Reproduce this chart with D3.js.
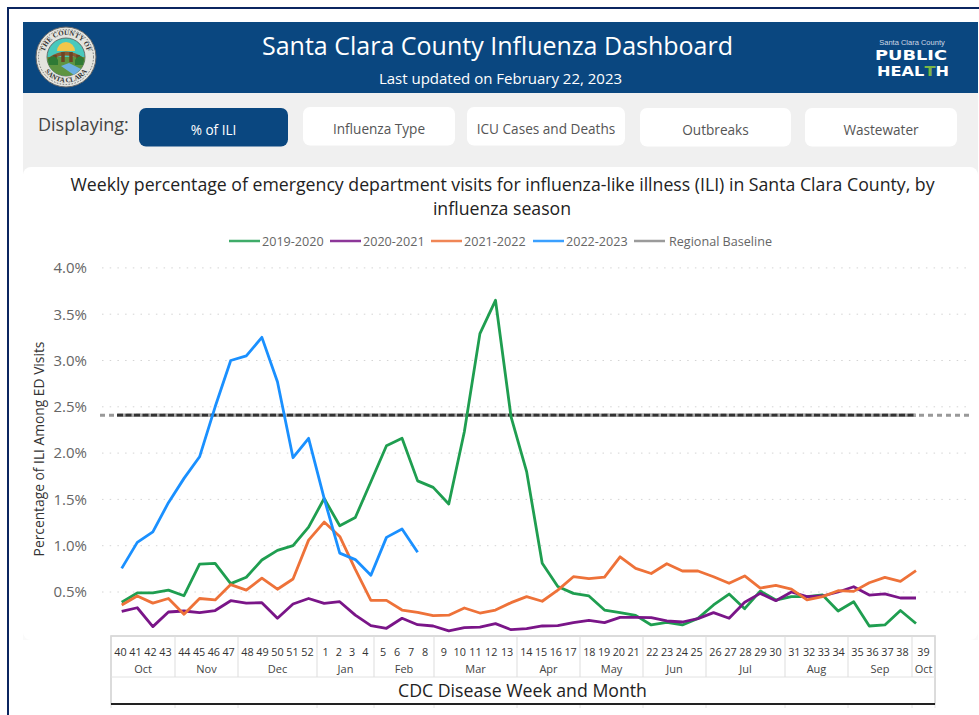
<!DOCTYPE html>
<html>
<head>
<meta charset="utf-8">
<script src="https://cdn.jsdelivr.net/npm/d3@7"></script>
<style>
body { margin: 0; background: #fff; }
text { font-family: "Open Sans", "Noto Sans", sans-serif; }
</style>
</head>
<body>
<svg id="chart" width="979" height="715"></svg>
<script>
// weeks in the order they are plotted, season starts at week 40
var weeks = [40,41,42,43,44,45,46,47,48,49,50,51,52,1,2,3,4,5,6,7,8,9,10,11,12,13,14,15,16,17,18,19,20,21,22,23,24,25,26,27,28,29,30,31,32,33,34,35,36,37,38,39];
var months = ["Oct","Nov","Dec","Jan","Feb","Mar","Apr","May","Jun","Jul","Aug","Sep","Oct"];
var monthWeeks = [4,4,5,4,4,5,4,4,4,5,4,4,1];
var buttons = ["% of ILI","Influenza Type","ICU Cases and Deaths","Outbreaks","Wastewater"];
var yTicks = [0.5,1.0,1.5,2.0,2.5,3.0,3.5,4.0];
var baseline = 2.41;

var s2019 = [.39,.49,.49,.52,.46,.80,.81,.59,.66,.845,.95,1.0,1.2,1.51,1.215,1.305,1.69,2.08,2.16,1.70,1.63,1.45,2.23,3.29,3.65,2.39,1.80,.81,.56,.485,.457,.305,.277,.248,.144,.172,.144,.215,.36,.478,.32,.51,.413,.45,.45,.468,.295,.395,.133,.144,.30,.16];
var s2020 = [.29,.33,.126,.284,.295,.277,.30,.406,.38,.385,.216,.37,.43,.378,.395,.25,.136,.108,.216,.147,.133,.08,.115,.12,.158,.093,.104,.133,.136,.17,.194,.17,.226,.226,.223,.187,.176,.212,.277,.216,.39,.485,.406,.50,.45,.457,.50,.557,.467,.48,.435,.435];
var s2021 = [.36,.457,.38,.43,.26,.43,.414,.58,.52,.65,.53,.64,1.06,1.255,1.10,.745,.41,.41,.305,.28,.244,.25,.327,.273,.305,.385,.45,.40,.52,.665,.645,.66,.88,.755,.70,.805,.727,.727,.665,.594,.673,.543,.572,.53,.414,.45,.514,.507,.60,.658,.615,.73];
var s2022 = [.755,1.036,1.15,1.465,1.727,1.96,2.5,3.0,3.05,3.25,2.77,1.95,2.16,1.51,.92,.85,.68,1.09,1.18,.93];

var seriesNames = ["2019-2020","2020-2021","2021-2022","2022-2023"];
var seriesValues = [s2019,s2020,s2021,s2022];
var seriesColors = ["#1f9e50","#7a1588","#ee7239","#1a90ff"];

var svg = d3.select("#chart");
var navy = "#0a4780";

// page frame and dashboard panels
svg.append("rect").attr("x",7).attr("y",7).attr("width",972).attr("height",2).attr("fill","#0b2560");
svg.append("rect").attr("x",7).attr("y",7).attr("width",2).attr("height",708).attr("fill","#0b2560");
svg.append("rect").attr("x",23).attr("y",22).attr("width",955).attr("height",71).attr("fill",navy);
svg.append("rect").attr("x",23).attr("y",93).attr("width",955).attr("height",90).attr("fill","#f0f0f0");
svg.append("rect").attr("x",23).attr("y",183).attr("width",955).attr("height",457).attr("fill","#fafafa");
svg.append("rect").attr("x",23).attr("y",167).attr("width",955).attr("height",473).attr("rx",8).attr("fill","#fff");

svg.append("text").attr("x",497.5).attr("y",55).attr("text-anchor","middle")
    .attr("fill","#fff").style("font-size","25px").text("Santa Clara County Influenza Dashboard");
svg.append("text").attr("x",500.5).attr("y",84).attr("text-anchor","middle")
    .attr("fill","#fff").style("font-size","15px").text("Last updated on February 22, 2023");

// county seal, just a rough version
var seal = svg.append("g").attr("transform","translate(66,57)");
seal.append("circle").attr("r",30).attr("fill","#e4e4de").attr("stroke","#666").attr("stroke-width",1);
seal.append("circle").attr("r",27.5).attr("fill","none").attr("stroke","#777").attr("stroke-width",1).attr("stroke-dasharray","1.5,1.5");
seal.append("path").attr("id","sealTop").attr("d","M-22,0 A22,22 0 0,1 22,0").attr("fill","none");
seal.append("path").attr("id","sealBottom").attr("d","M-25.5,0 A25.5,25.5 0 0,0 25.5,0").attr("fill","none");
seal.append("text").style("font-size","7px").style("font-family","Liberation Serif").style("font-weight","bold").attr("fill","#333")
    .append("textPath").attr("href","#sealTop").attr("startOffset","50%").attr("text-anchor","middle").text("THE COUNTY OF");
seal.append("text").style("font-size","7px").style("font-family","Liberation Serif").style("font-weight","bold").attr("fill","#333")
    .append("textPath").attr("href","#sealBottom").attr("startOffset","50%").attr("text-anchor","middle").text("SANTA CLARA");
seal.append("circle").attr("r",19).attr("fill","#48c9bd").attr("stroke","#555").attr("stroke-width",0.8);
seal.append("path").attr("d","M-19,0 A19,19 0 0,0 19,0 Z").attr("fill","#5f9440");
seal.append("path").attr("d","M-9,-6 A9,9 0 0,1 9,-6 Z").attr("fill","#f2c64a");
seal.append("path").attr("d","M-18,1 Q0,-12 18,1 L18,4 Q0,-7 -18,4 Z").attr("fill","#8a5a30");
seal.append("path").attr("d","M-11,-2 L-11,8 M-3,-5 L-3,5 M5,-5 L5,5 M12,-2 L12,8").attr("stroke","#6d4424").attr("stroke-width",3.5);
seal.append("path").attr("d","M-5,9 L8,18 L15,12 L3,6 Z").attr("fill","#6db0e0");
seal.append("path").attr("d","M-18,2 Q-12,-4 -8,3 L-8,8 L-17,8 Z M9,3 Q14,-4 18,2 L17,8 L9,8 Z").attr("fill","#2f7a35");

// public health logo, letters stretched sideways so the lines do not collide
svg.append("text").attr("x",912).attr("y",45).attr("text-anchor","middle").attr("fill","#cfd9e6")
    .style("font-size","7.5px").style("font-family","Liberation Sans").text("Santa Clara County");
svg.append("text").attr("transform","translate(911,60) scale(1.27,1)").attr("text-anchor","middle").attr("fill","#fff")
    .style("font-size","14px").style("font-weight","bold").style("font-family","DejaVu Sans").text("PUBLIC");
var health = svg.append("text").attr("transform","translate(913,76) scale(1.155,1)").attr("text-anchor","middle").attr("fill","#fff")
    .style("font-size","14px").style("font-weight","bold").style("font-family","DejaVu Sans");
health.append("tspan").text("HEAL");
health.append("tspan").attr("fill","#7ab648").text("T");
health.append("tspan").text("H");

// displaying buttons
svg.append("text").attr("x",38).attr("y",131).attr("fill","#444").style("font-size","18px").text("Displaying:");
var buttonX = [139,303,467,640,805];
var buttonW = [149,152,158,151,152];
var buttonY = [108,107,107,108,108];
var buttonG = svg.selectAll(".btn").data(buttons).enter().append("g").attr("class","btn");
buttonG.append("rect")
    .attr("x",(d,i) => buttonX[i]).attr("y",(d,i) => buttonY[i])
    .attr("width",(d,i) => buttonW[i]).attr("height",38.5).attr("rx",7)
    .attr("fill",(d,i) => i == 0 ? navy : "#fff");
buttonG.append("text")
    .attr("x",(d,i) => buttonX[i] + buttonW[i] / 2).attr("y",(d,i) => buttonY[i] + 27)
    .attr("text-anchor","middle")
    .attr("fill",(d,i) => i == 0 ? "#fff" : "#555")
    .style("font-size","13.6px").text(d => d);

// chart title
svg.append("text").attr("x",502.5).attr("y",191).attr("text-anchor","middle").attr("fill","#222")
    .style("font-size","17.7px").text("Weekly percentage of emergency department visits for influenza-like illness (ILI) in Santa Clara County, by");
svg.append("text").attr("x",502).attr("y",215).attr("text-anchor","middle").attr("fill","#222")
    .style("font-size","17.7px").text("influenza season");

// legend
var legendNames = seriesNames.concat(["Regional Baseline"]);
var legendColors = seriesColors.concat(["#8a8a8a"]);
var legendX = [229,330,431,533,634];
var legend = svg.selectAll(".leg").data(legendNames).enter().append("g").attr("class","leg")
    .attr("transform",(d,i) => "translate(" + legendX[i] + ",241)");
legend.append("line").attr("x2",31).attr("stroke",(d,i) => legendColors[i]).attr("stroke-width",2.5).attr("opacity",0.85);
legend.append("text").attr("x",(d,i) => i == 4 ? 35 : 33).attr("y",4.5).attr("fill","#666").style("font-size","12.6px").text(d => d);

// scales
var x = d3.scalePoint().domain(d3.range(weeks.length)).range([121.7,916]);
var y = d3.scaleLinear().domain([0,4]).range([638.3,267.9]);

// y axis and dotted grid
var yAxis = svg.append("g").attr("transform","translate(102,0)")
    .call(d3.axisLeft(y).tickValues(yTicks).tickFormat(d => d.toFixed(1) + "%").tickSize(0).tickPadding(15));
yAxis.select(".domain").remove();
yAxis.selectAll("text").attr("fill","#666").style("font-size","15px");
svg.append("g").selectAll("line").data(yTicks).enter().append("line")
    .attr("x1",102).attr("x2",969).attr("y1",d => y(d)).attr("y2",d => y(d))
    .attr("stroke","#d4d4d4").attr("stroke-width",1).attr("stroke-dasharray","1.5,6.2");

svg.append("text").attr("transform","translate(44,449) rotate(-90)").attr("text-anchor","middle")
    .attr("fill","#333").style("font-size","13.8px").text("Percentage of ILI Among ED Visits");

// regional baseline, forecast part lighter
svg.append("line").attr("x1",100).attr("x2",969).attr("y1",y(baseline)).attr("y2",y(baseline))
    .attr("stroke","#999").attr("stroke-width",3).attr("stroke-dasharray","5,4");
svg.append("line").attr("x1",117).attr("x2",916).attr("y1",y(baseline)).attr("y2",y(baseline))
    .attr("stroke","#aaa").attr("stroke-width",3.5);
svg.append("line").attr("x1",117).attr("x2",916).attr("y1",y(baseline)).attr("y2",y(baseline))
    .attr("stroke","#333").attr("stroke-width",2.8).attr("stroke-dasharray","6,2.5");

// season lines
var line = d3.line().x((d,i) => x(i)).y(d => y(d));
svg.append("g").selectAll("path").data(seriesValues).enter().append("path")
    .attr("d",line).attr("fill","none")
    .attr("stroke",(d,i) => seriesColors[i]).attr("stroke-width",2.8).attr("stroke-linejoin","round");

// week / month table under the plot
var monthEdges = [111,175,238,317,374,434,517,580,643,706,785,848,912,935];
var tableTop = 636, monthBottom = 677, tableBottom = 704;
var table = svg.append("g");
table.append("rect").attr("x",111).attr("y",tableTop).attr("width",824).attr("height",tableBottom - tableTop)
    .attr("fill","#fff").attr("stroke","#d0d0d0").attr("stroke-width",1.5);
table.append("line").attr("x1",111).attr("x2",935).attr("y1",monthBottom).attr("y2",monthBottom).attr("stroke","#e2e2e2");
table.selectAll(".sep").data(monthEdges).enter().append("line").attr("class","sep")
    .attr("x1",d => d).attr("x2",d => d).attr("y1",tableTop).attr("y2",monthBottom).attr("stroke","#ddd");
table.selectAll(".tail").data(monthEdges).enter().append("line").attr("class","tail")
    .attr("x1",d => d).attr("x2",d => d).attr("y1",tableBottom).attr("y2",708).attr("stroke","#e4e4e4");

var offset = 0;
months.forEach(function(m, i) {
    var wk = weeks.slice(offset, offset + monthWeeks[i]);
    offset += monthWeeks[i];
    var band = d3.scaleBand().domain(wk).range([monthEdges[i] + 2, monthEdges[i + 1] - 2]);
    table.selectAll(".wk" + i).data(wk).enter().append("text").attr("class","wk" + i)
        .attr("x",d => band(d) + band.bandwidth() / 2).attr("y",656).attr("text-anchor","middle")
        .attr("fill","#333").style("font-size","10.8px").text(d => d);
    table.append("text").attr("x",(monthEdges[i] + monthEdges[i + 1]) / 2).attr("y",673).attr("text-anchor","middle")
        .attr("fill","#444").style("font-size","11px").text(m);
});
table.append("text").attr("x",522.5).attr("y",697).attr("text-anchor","middle").attr("fill","#222")
    .style("font-size","17.7px").text("CDC Disease Week and Month");
table.append("line").attr("x1",111).attr("x2",935).attr("y1",tableBottom).attr("y2",tableBottom)
    .attr("stroke","#222").attr("stroke-width",2);
</script>
</body>
</html>
